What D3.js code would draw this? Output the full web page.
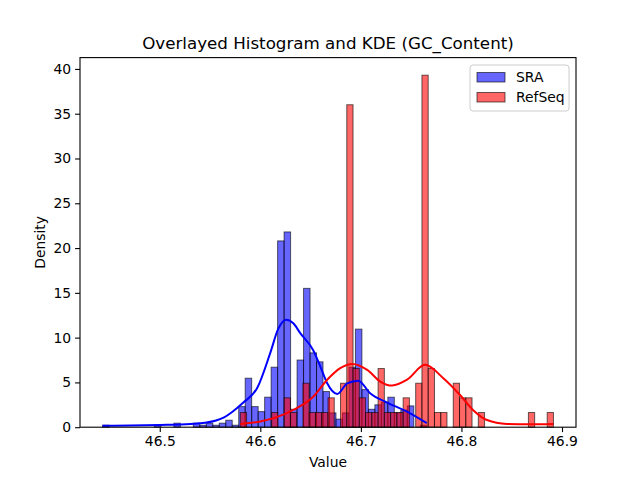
<!DOCTYPE html>
<html>
<head>
<meta charset="utf-8">
<script src="https://cdn.jsdelivr.net/npm/d3@7"></script>
<style>
  body { margin: 0; background: #fff; }
  text { font-family: "DejaVu Sans", sans-serif; }
</style>
</head>
<body>
<div id="chart"></div>
<script>
// histogram ranges (first and last bin edge), 50 bins each
const sraRange = [46.4431, 46.7655];
const refseqRange = [46.5801, 46.8915];

// density per bin
const sraDensity = [
  0.22, 0, 0, 0, 0, 0, 0, 0, 0.22, 0,
  0, 0.45, 0, 0, 0.45, 0.22, 0.45, 0.22, 0.45, 0.78,
  0.22, 2.3, 5.47, 2.3, 1.74, 3.35, 6.7, 20.8, 21.8, 2.0,
  7.5, 15.5, 8.3, 7.3, 3.98, 1.6, 0.9, 1.6, 6.7, 10.95,
  4.2, 2.0, 2.5, 2.8, 3.35, 1.6, 1.9, 2.38, 0, 0.22
];
const refseqDensity = [
  1.64, 0, 0, 0, 0, 1.64, 0, 3.28, 1.64, 0,
  4.91, 1.64, 1.64, 1.64, 3.28, 0, 4.91, 36.0, 6.55, 3.28,
  1.64, 1.64, 6.55, 1.64, 1.64, 1.64, 3.28, 0, 4.91, 39.3,
  6.55, 1.64, 1.64, 0, 4.91, 3.28, 3.28, 0, 1.64, 0,
  0, 0, 0, 0, 0, 0, 1.64, 0, 0, 1.64
];

// KDE curves
const sraKdeX = [46.4431, 46.4709, 46.5007, 46.5305, 46.5450, 46.5560, 46.5640, 46.5720, 46.5831, 46.5970,
  46.6099, 46.6179, 46.6258, 46.6328, 46.6397, 46.6526, 46.6596, 46.6665, 46.6765, 46.6864,
  46.6973, 46.7092, 46.7261, 46.7459, 46.7655];
const sraKdeY = [0.15, 0.18, 0.25, 0.37, 0.5, 0.75, 1.1, 1.7, 2.75, 4.4,
  8.3, 11.0, 12.0, 11.6, 10.5, 8.6, 6.8, 4.9, 3.7, 4.9,
  5.2, 3.8, 2.75, 1.74, 0.45];
const refseqKdeX = [46.5801, 46.6000, 46.6328, 46.6526, 46.6665, 46.6795, 46.6914, 46.7063, 46.7192, 46.7311,
  46.7459, 46.7638, 46.7817, 46.7986, 46.8115, 46.8254, 46.8453, 46.8681, 46.8915];
const refseqKdeY = [0.37, 0.63, 1.93, 3.4, 5.3, 6.6, 7.07, 6.4, 5.1, 4.65,
  5.3, 6.96, 5.5, 3.6, 1.93, 0.8, 0.37, 0.33, 0.37];

const xTicks = [46.5, 46.6, 46.7, 46.8, 46.9];
const yTicks = [0, 5, 10, 15, 20, 25, 30, 35, 40];

const width = 640, height = 480;
const margin = { left: 80, right: 64, top: 57.6, bottom: 52.8 };

const svg = d3.select("#chart").append("svg")
    .attr("width", width)
    .attr("height", height);

// matplotlib style 5% padding around the data
const lo = Math.min(sraRange[0], refseqRange[0]);
const hi = Math.max(sraRange[1], refseqRange[1]);
const pad = (hi - lo) * 0.05;
const x = d3.scaleLinear()
    .domain([lo - pad, hi + pad])
    .range([margin.left, width - margin.right]);

const yMax = d3.max(sraDensity.concat(refseqDensity)) * 1.05;
const y = d3.scaleLinear()
    .domain([0, yMax])
    .range([height - margin.bottom, margin.top]);

function bins(range, values) {
    const w = (range[1] - range[0]) / values.length;
    return values.map((v, i) => ({ x0: range[0] + i * w, x1: range[0] + (i + 1) * w, v: v }));
}

function drawHist(data, fill) {
    svg.append("g").selectAll("rect")
        .data(data.filter(d => d.v > 0))
        .enter().append("rect")
        .attr("x", d => x(d.x0))
        .attr("y", d => y(d.v))
        .attr("width", d => x(d.x1) - x(d.x0))
        .attr("height", d => y(0) - y(d.v))
        .attr("fill", fill)
        .attr("fill-opacity", 0.6)
        .attr("stroke", "#000")
        .attr("stroke-opacity", 0.6)
        .attr("stroke-width", 1);
}

drawHist(bins(sraRange, sraDensity), "blue");
drawHist(bins(refseqRange, refseqDensity), "red");

const line = d3.line()
    .x(d => x(d[0]))
    .y(d => y(d[1]))
    .curve(d3.curveMonotoneX);

svg.append("path")
    .attr("d", line(d3.zip(sraKdeX, sraKdeY)))
    .attr("fill", "none")
    .attr("stroke", "blue")
    .attr("stroke-width", 2);

svg.append("path")
    .attr("d", line(d3.zip(refseqKdeX, refseqKdeY)))
    .attr("fill", "none")
    .attr("stroke", "red")
    .attr("stroke-width", 2);

// axes
const xAxis = svg.append("g")
    .attr("transform", `translate(0,${height - margin.bottom})`)
    .call(d3.axisBottom(x).tickValues(xTicks).tickSize(4.9).tickPadding(4).tickFormat(d3.format(".1f")));
const yAxis = svg.append("g")
    .attr("transform", `translate(${margin.left},0)`)
    .call(d3.axisLeft(y).tickValues(yTicks).tickSize(4.9).tickPadding(4));

[xAxis, yAxis].forEach(g => {
    g.select(".domain").remove();
    g.selectAll("line").attr("stroke", "#000").attr("stroke-width", 1.1);
    g.selectAll("text").attr("font-size", "13.9px").attr("fill", "#000")
        .attr("font-family", "DejaVu Sans, sans-serif");
});

// frame
svg.append("rect")
    .attr("x", margin.left)
    .attr("y", margin.top)
    .attr("width", width - margin.left - margin.right)
    .attr("height", height - margin.top - margin.bottom)
    .attr("fill", "none")
    .attr("stroke", "#000")
    .attr("stroke-width", 1.1);

svg.append("text")
    .attr("x", (margin.left + width - margin.right) / 2)
    .attr("y", 49)
    .attr("text-anchor", "middle")
    .attr("font-size", "16.7px")
    .text("Overlayed Histogram and KDE (GC_Content)");

svg.append("text")
    .attr("x", (margin.left + width - margin.right) / 2)
    .attr("y", 467)
    .attr("text-anchor", "middle")
    .attr("font-size", "13.9px")
    .text("Value");

svg.append("text")
    .attr("transform", `translate(45,${(margin.top + height - margin.bottom) / 2}) rotate(-90)`)
    .attr("text-anchor", "middle")
    .attr("font-size", "13.9px")
    .text("Density");

// legend
const legend = svg.append("g").attr("transform", "translate(470,65)");
legend.append("rect")
    .attr("width", 99).attr("height", 46).attr("rx", 3)
    .attr("fill", "#fff").attr("fill-opacity", 0.8)
    .attr("stroke", "#ccc");
const items = [["SRA", "blue"], ["RefSeq", "red"]];
items.forEach((it, i) => {
    legend.append("rect")
        .attr("x", 7).attr("y", 7.5 + i * 20)
        .attr("width", 28).attr("height", 9.5)
        .attr("fill", it[1]).attr("fill-opacity", 0.6)
        .attr("stroke", "#000").attr("stroke-opacity", 0.6);
    legend.append("text")
        .attr("x", 46).attr("y", 17 + i * 20)
        .attr("font-size", "13.9px")
        .text(it[0]);
});
</script>
</body>
</html>
